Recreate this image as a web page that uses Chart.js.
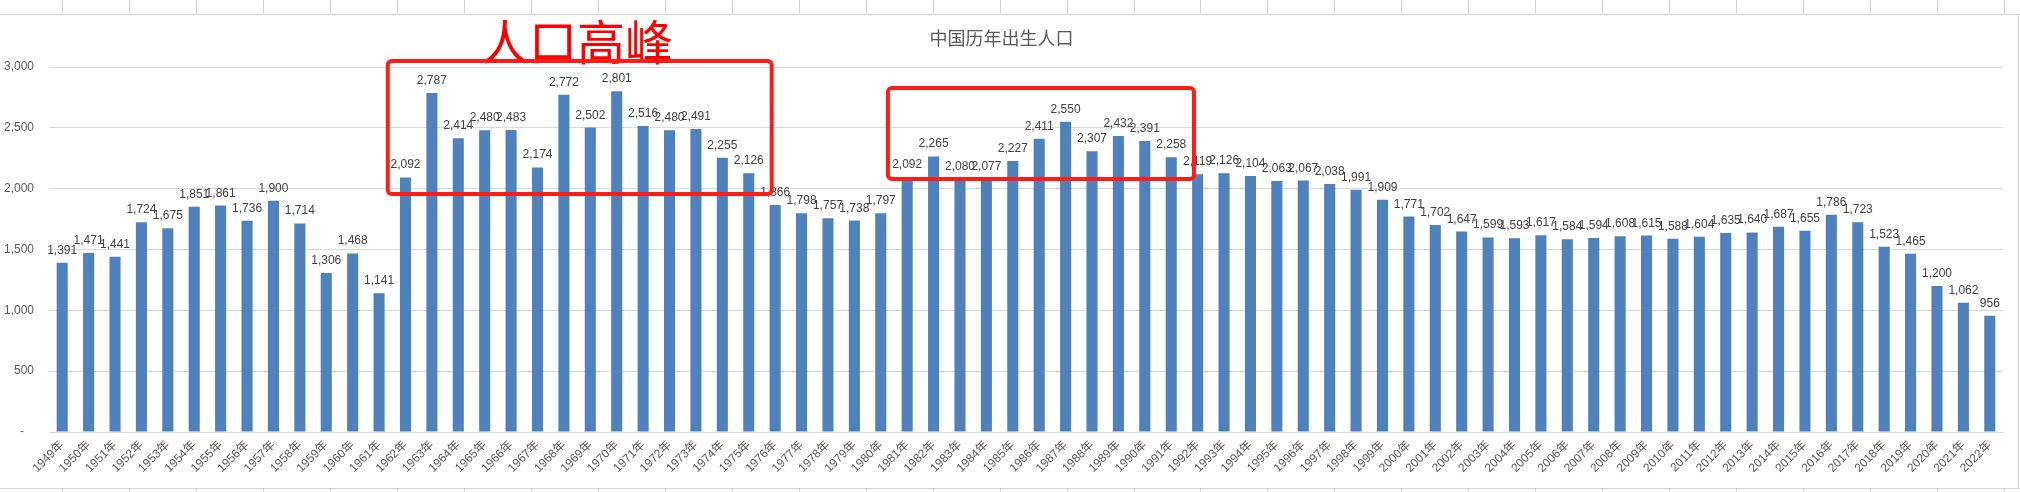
<!DOCTYPE html>
<html>
<head>
<meta charset="utf-8">
<script src="https://cdn.jsdelivr.net/npm/chart.js@4.4.0/dist/chart.umd.min.js"></script>
<style>
  html, body { margin: 0; padding: 0; background: #fff; }
  #wrap { position: relative; width: 2020px; height: 492px; }
</style>
</head>
<body>
<div id="wrap"><canvas id="births" width="2020" height="492"></canvas></div>
<script>
const years = [
  "1949年", "1950年", "1951年", "1952年", "1953年", "1954年", "1955年", "1956年", "1957年", "1958年",
  "1959年", "1960年", "1961年", "1962年", "1963年", "1964年", "1965年", "1966年", "1967年", "1968年",
  "1969年", "1970年", "1971年", "1972年", "1973年", "1974年", "1975年", "1976年", "1977年", "1978年",
  "1979年", "1980年", "1981年", "1982年", "1983年", "1984年", "1985年", "1986年", "1987年", "1988年",
  "1989年", "1990年", "1991年", "1992年", "1993年", "1994年", "1995年", "1996年", "1997年", "1998年",
  "1999年", "2000年", "2001年", "2002年", "2003年", "2004年", "2005年", "2006年", "2007年", "2008年",
  "2009年", "2010年", "2011年", "2012年", "2013年", "2014年", "2015年", "2016年", "2017年", "2018年",
  "2019年", "2020年", "2021年", "2022年"
];
const births = [
  1391, 1471, 1441, 1724, 1675, 1851, 1861, 1736, 1900, 1714,
  1306, 1468, 1141, 2092, 2787, 2414, 2480, 2483, 2174, 2772,
  2502, 2801, 2516, 2480, 2491, 2255, 2126, 1866, 1798, 1757,
  1738, 1797, 2092, 2265, 2080, 2077, 2227, 2411, 2550, 2307,
  2432, 2391, 2258, 2119, 2126, 2104, 2063, 2067, 2038, 1991,
  1909, 1771, 1702, 1647, 1599, 1593, 1617, 1584, 1594, 1608,
  1615, 1588, 1604, 1635, 1640, 1687, 1655, 1786, 1723, 1523,
  1465, 1200, 1062, 956
];
const yTicks = [0, 500, 1000, 1500, 2000, 2500, 3000];
const chartTitle = "中国历年出生人口";
const peakText = "人口高峰";

// red marker boxes: [from index, to index, low value, high value]
const peakBoxes = [
  [12.33, 26.87, 1956, 3049],
  [31.27, 42.86, 2079, 2827]
];

const fmt = v => v.toLocaleString("en-US");
const numFont = '"Liberation Sans", "Noto Sans CJK SC", sans-serif';
const cjkFont = '"Noto Sans CJK SC", sans-serif';

// excel sheet behind the chart
const sheet = {
  id: "sheet",
  beforeDraw(chart) {
    const ctx = chart.ctx;
    ctx.save();
    ctx.fillStyle = "#fff";
    ctx.fillRect(0, 0, chart.width, chart.height);
    ctx.strokeStyle = "#d4d4d4";
    ctx.lineWidth = 1;
    ctx.beginPath();
    ctx.moveTo(0, 14.5); ctx.lineTo(chart.width, 14.5);
    ctx.moveTo(0, 488.5); ctx.lineTo(chart.width, 488.5);
    for (let x = 62; x < chart.width; x += 66.97) {
      const px = Math.round(x) + 0.5;
      ctx.moveTo(px, 0); ctx.lineTo(px, 14);
      ctx.moveTo(px, 489); ctx.lineTo(px, chart.height);
    }
    ctx.moveTo(2018.5, 14); ctx.lineTo(2018.5, 488);
    ctx.stroke();
    ctx.restore();
  }
};

const valueLabels = {
  id: "valueLabels",
  afterDatasetsDraw(chart) {
    const ctx = chart.ctx;
    const meta = chart.getDatasetMeta(0);
    ctx.save();
    ctx.font = "12px " + numFont;
    ctx.fillStyle = "#404040";
    ctx.textAlign = "center";
    ctx.textBaseline = "alphabetic";
    meta.data.forEach((bar, i) => {
      ctx.fillText(fmt(births[i]), bar.x, bar.y - 9);
    });
    ctx.restore();
  }
};

const peaks = {
  id: "peaks",
  afterDraw(chart) {
    const ctx = chart.ctx;
    const xs = chart.scales.x, ys = chart.scales.y;
    ctx.save();
    ctx.font = "48px " + cjkFont;
    ctx.fillStyle = "#ff0000";
    ctx.textAlign = "left";
    ctx.textBaseline = "alphabetic";
    ctx.fillText(peakText, 481, 60);
    ctx.strokeStyle = "#ff1c14";
    ctx.lineWidth = 4;
    peakBoxes.forEach(([a, b, lo, hi]) => {
      const x1 = xs.getPixelForValue(a), x2 = xs.getPixelForValue(b);
      const y1 = ys.getPixelForValue(hi), y2 = ys.getPixelForValue(lo);
      ctx.beginPath();
      ctx.roundRect(x1, y1, x2 - x1, y2 - y1, 4);
      ctx.stroke();
    });
    ctx.restore();
  }
};

new Chart(document.getElementById("births"), {
  type: "bar",
  data: {
    labels: years,
    datasets: [{
      data: births,
      backgroundColor: "#4f81bd",
      borderWidth: 0,
      categoryPercentage: 1,
      barPercentage: 0.42
    }]
  },
  options: {
    responsive: false,
    animation: false,
    layout: { padding: { left: 0, right: 17, top: 0, bottom: 0 } },
    plugins: {
      legend: { display: false },
      tooltip: { enabled: false },
      title: {
        display: true,
        text: chartTitle,
        color: "#595959",
        font: { family: cjkFont, size: 18, weight: "normal", lineHeight: 1.2 },
        padding: { top: 27, bottom: 18.4 }
      }
    },
    scales: {
      x: {
        grid: { display: false, drawTicks: false },
        border: { display: true, color: "#d9d9d9" },
        ticks: {
          autoSkip: false,
          minRotation: 45,
          maxRotation: 45,
          padding: 6,
          color: "#595959",
          font: { family: numFont, size: 12 }
        },
        afterFit(s) { s.height = 60; }
      },
      y: {
        min: 0,
        max: 3000,
        grid: { color: "#d9d9d9", drawTicks: false },
        border: { display: false },
        afterBuildTicks(s) { s.ticks = yTicks.map(v => ({ value: v })); },
        ticks: {
          padding: 15,
          color: "#595959",
          font: { family: numFont, size: 12 },
          callback: v => (v === 0 ? "-   " : fmt(v))
        },
        afterFit(s) { s.width = 49; }
      }
    }
  },
  plugins: [sheet, valueLabels, peaks]
});
</script>
</body>
</html>
